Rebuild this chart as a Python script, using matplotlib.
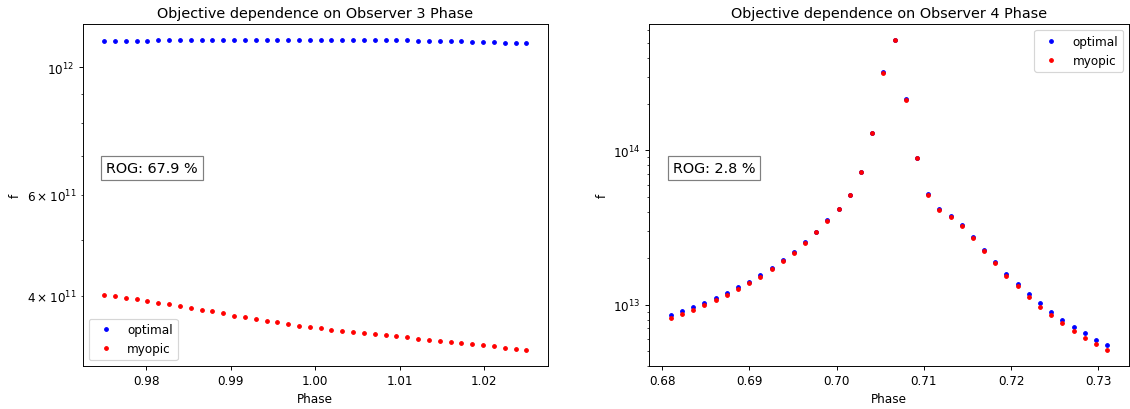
import numpy as np
import matplotlib
matplotlib.use("Agg")
import matplotlib.pyplot as plt

# ---- data ----
obs3_phase = np.linspace(0.975, 1.025, 40)
obs3_optimal = np.array([
    1.1100, 1.1105, 1.1120, 1.1130, 1.1135, 1.1140, 1.1145, 1.1150, 1.1155, 1.1160,
    1.1165, 1.1170, 1.1172, 1.1174, 1.1176, 1.1177, 1.1178, 1.1178, 1.1177, 1.1176,
    1.1176, 1.1174, 1.1170, 1.1165, 1.1160, 1.1155, 1.1150, 1.1143, 1.1136, 1.1128,
    1.1120, 1.1111, 1.1102, 1.1092, 1.1082, 1.1070, 1.1058, 1.1046, 1.1033, 1.1020]) * 1e12
obs3_myopic = np.array([
    0.4016, 0.4000, 0.3973, 0.3948, 0.3926, 0.3895, 0.3870, 0.3839, 0.3813, 0.3787,
    0.3763, 0.3733, 0.3697, 0.3673, 0.3653, 0.3624, 0.3600, 0.3576, 0.3548, 0.3535,
    0.3512, 0.3493, 0.3478, 0.3465, 0.3451, 0.3428, 0.3415, 0.3402, 0.3388, 0.3369,
    0.3355, 0.3342, 0.3328, 0.3312, 0.3302, 0.3281, 0.3268, 0.3250, 0.3229, 0.3215]) * 1e12

obs4_phase = np.linspace(0.681, 0.731, 40)
obs4_optimal = np.array([
    0.856, 0.909, 0.970, 1.030, 1.105, 1.196, 1.296, 1.411, 1.551, 1.723,
    1.943, 2.201, 2.532, 2.970, 3.523, 4.173, 5.148, 7.268,
    13.04, 32.10, 52.40, 21.40, 8.930,
    5.200, 4.153, 3.776, 3.283, 2.743, 2.268, 1.886, 1.583, 1.356, 1.167,
    1.020, 0.891, 0.798, 0.715, 0.650, 0.591, 0.546]) * 1e13
obs4_myopic = np.array([
    0.814, 0.869, 0.923, 0.994, 1.067, 1.155, 1.264, 1.390, 1.521, 1.689,
    1.914, 2.168, 2.519, 2.956, 3.504, 4.153, 5.122, 7.232,
    13.00, 32.00, 52.30, 21.30, 8.900,
    5.150, 4.111, 3.720, 3.234, 2.702, 2.235, 1.848, 1.544, 1.315, 1.121,
    0.970, 0.856, 0.759, 0.670, 0.606, 0.551, 0.504]) * 1e13

titles = ["Objective dependence on Observer 3 Phase",
          "Objective dependence on Observer 4 Phase"]
rog_labels = ["ROG: 67.9 %", "ROG: 2.8 %"]
legend_locs = ["lower left", "upper right"]

# ---- figure ----
fig = plt.figure(figsize=(1130 / 86, 410 / 86), dpi=86)
ax1 = fig.add_axes([83 / 1130, 43 / 410, 464.5 / 1130, 342 / 410])
ax2 = fig.add_axes([649 / 1130, 43 / 410, 480 / 1130, 342 / 410])

datasets = [(obs3_phase, obs3_optimal, obs3_myopic),
            (obs4_phase, obs4_optimal, obs4_myopic)]

for ax, (x, yo, ym), title, rog, loc in zip([ax1, ax2], datasets, titles,
                                            rog_labels, legend_locs):
    ax.plot(x, yo, '.', color='blue', label='optimal')
    ax.plot(x, ym, '.', color='red', label='myopic')
    ax.set_yscale('log')
    ax.set_title(title)
    ax.set_xlabel('Phase')
    ax.set_ylabel('f')
    ax.text(0.05, 0.6, rog, transform=ax.transAxes, fontsize=12, va='top',
            bbox=dict(facecolor='white', alpha=0.5))
    ax.legend(loc=loc)

fig.savefig("out.png", dpi=86)
